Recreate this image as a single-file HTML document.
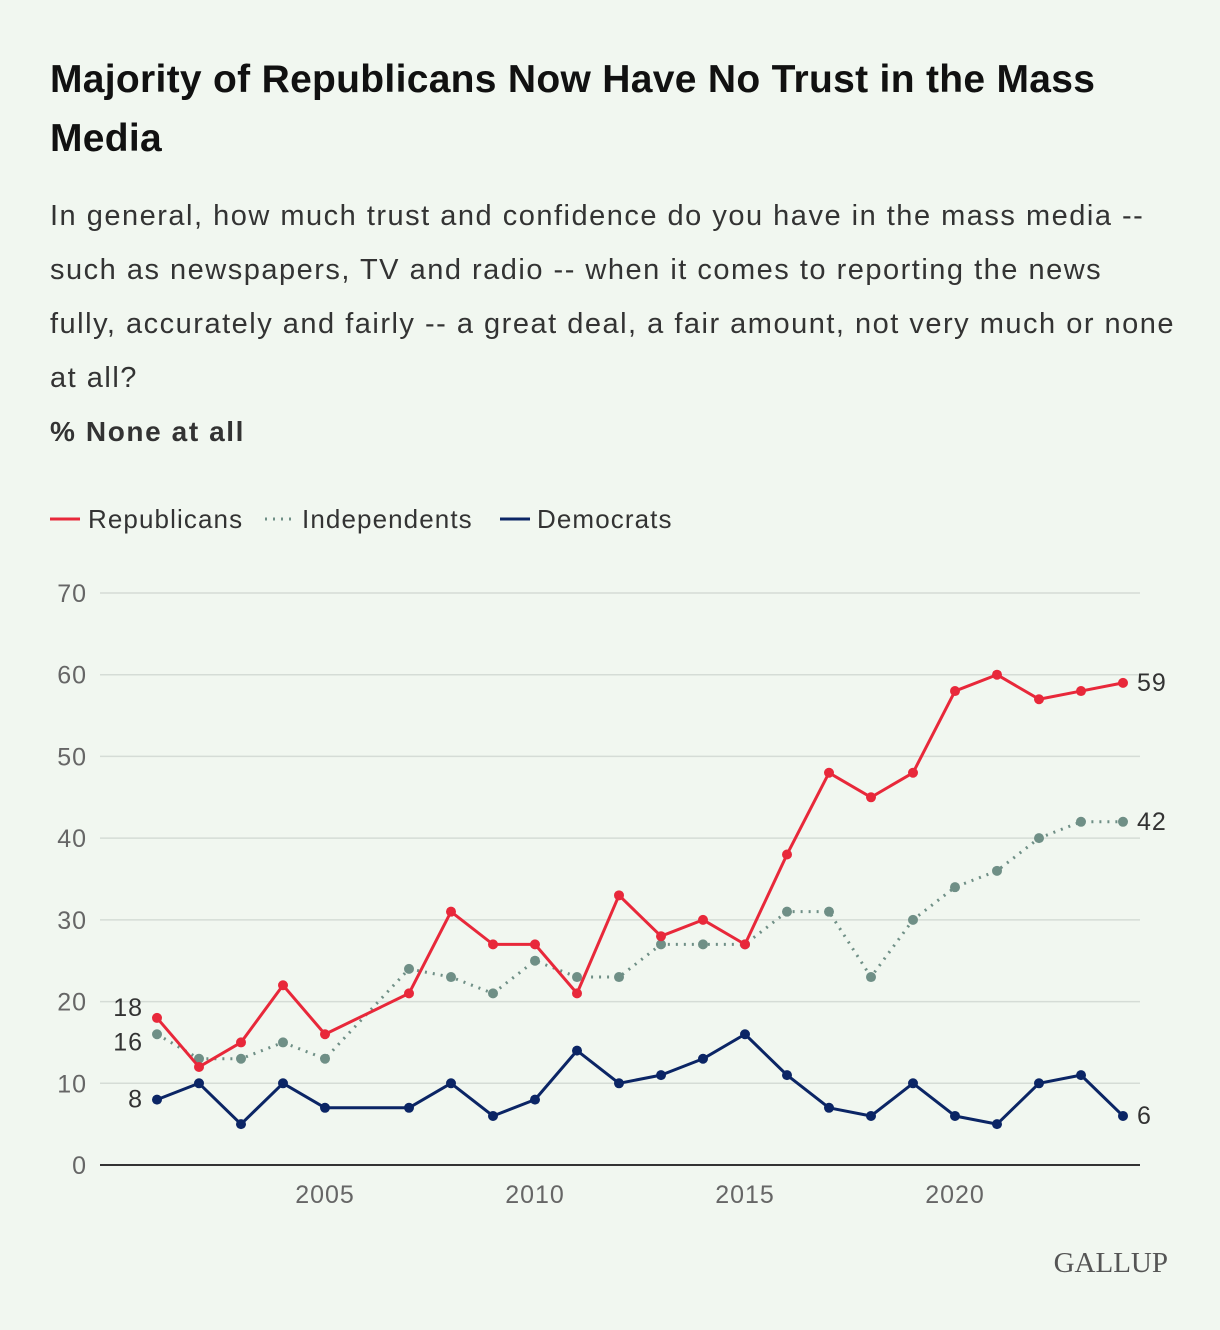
<!DOCTYPE html>
<html><head><meta charset="utf-8"><style>
body{margin:0;background:#f1f7f0;width:1220px;height:1330px;overflow:hidden;font-family:"Liberation Sans",sans-serif;}
#title{position:absolute;left:50px;top:50px;width:1160px;font-size:39px;letter-spacing:0.3px;font-weight:bold;line-height:59px;color:#111;margin:0;white-space:nowrap}
#sub{position:absolute;left:50px;top:189px;width:1170px;font-size:29px;letter-spacing:1.5px;line-height:54px;color:#333;margin:0;white-space:nowrap}
#unit{position:absolute;left:50px;top:416px;font-size:28px;letter-spacing:1.6px;font-weight:bold;color:#333}
svg{position:absolute;left:0;top:0}
</style></head><body>
<h1 id="title">Majority of Republicans Now Have No Trust in the Mass<br>Media</h1>
<p id="sub">In general, how much trust and confidence do you have in the mass media --<br>such as newspapers, TV and radio -- when it comes to reporting the news<br>fully, accurately and fairly -- a great deal, a fair amount, not very much or none<br>at all?</p>
<div id="unit">% None at all</div>
<svg id="chart" width="1220" height="1330"></svg>
<script>
const years=[2001,2002,2003,2004,2005,2007,2008,2009,2010,2011,2012,2013,2014,2015,2016,2017,2018,2019,2020,2021,2022,2023,2024];
const repVals=[18,12,15,22,16,21,31,27,27,21,33,28,30,27,38,48,45,48,58,60,57,58,59];
const indVals=[16,13,13,15,13,24,23,21,25,23,23,27,27,27,31,31,23,30,34,36,40,42,42];
const demVals=[8,10,5,10,7,7,10,6,8,14,10,11,13,16,11,7,6,10,6,5,10,11,6];
const yTicks=[0,10,20,30,40,50,60,70];
const xTicks=[2005,2010,2015,2020];
const NS="http://www.w3.org/2000/svg";
const svg=document.getElementById('chart');
const x=y=>157+(y-2001)*42;
const yS=v=>1165-v*(572/70);
function mk(t,a,txt){const e=document.createElementNS(NS,t);for(const k in a)e.setAttribute(k,a[k]);if(txt!==undefined)e.textContent=txt;svg.appendChild(e);return e;}
yTicks.forEach(v=>{
  const g=mk('line',{x1:100,x2:1140,y1:yS(v),y2:yS(v),stroke:v===0?'#333':'#d5dcd6','stroke-width':v===0?2:1.5});
  
  
  const t=mk('text',{x:87,y:yS(v)+9,'text-anchor':'end','font-size':25,'letter-spacing':1,fill:'#666'},v);
  
  
});
xTicks.forEach(v=>{
  const t=mk('text',{x:x(v),y:1203,'text-anchor':'middle','font-size':25,'letter-spacing':1,fill:'#666'},v);
  
  
});
function series(vals,color,dash,name){
  const pts=vals.map((v,i)=>x(years[i])+','+yS(v)).join(' ');
  const p=mk('polyline',{points:pts,fill:'none',stroke:color,'stroke-width':3,'stroke-linejoin':'round'});
  if(dash)p.setAttribute('stroke-dasharray',dash);
  
  
  vals.forEach((v,i)=>{
    const c=mk('circle',{cx:x(years[i]),cy:yS(v),r:5,fill:color});
    
    
  });
}
series(indVals,'#6f8f86','2 6','independents');
series(demVals,'#0b2565',null,'democrats');
series(repVals,'#e8283a',null,'republicans');
function lab(txt,xx,yy,anchor,name){const t=mk('text',{x:xx,y:yy,'text-anchor':anchor,'font-size':25,'letter-spacing':1,fill:'#333'},txt);
  
  }
const n=years.length-1;
lab(repVals[0],143,yS(repVals[0])-2,'end','rep-start-label');
lab(indVals[0],143,yS(indVals[0])+16,'end','ind-start-label');
lab(demVals[0],143,yS(demVals[0])+8,'end','dem-start-label');
lab(repVals[n],1137,yS(repVals[n])+8,'start','rep-end-label');
lab(indVals[n],1137,yS(indVals[n])+8,'start','ind-end-label');
lab(demVals[n],1137,yS(demVals[n])+8,'start','dem-end-label');
const leg=[['Republicans','#e8283a',null,50,88],['Independents','#6f8f86','2 6',265,302],['Democrats','#0b2565',null,500,537]];
leg.forEach(l=>{
  const ln=mk('line',{x1:l[3],x2:l[3]+30,y1:519,y2:519,stroke:l[1],'stroke-width':3});
  if(l[2])ln.setAttribute('stroke-dasharray',l[2]);
  
  
  const t=mk('text',{x:l[4],y:528,'font-size':26,'letter-spacing':1.1,fill:'#333'},l[0]);
  
  
});
const g=mk('text',{x:1168,y:1272,'text-anchor':'end','font-size':29,fill:'#555','font-family':'Liberation Serif, serif'},'GALLUP');


</script>
</body></html>
